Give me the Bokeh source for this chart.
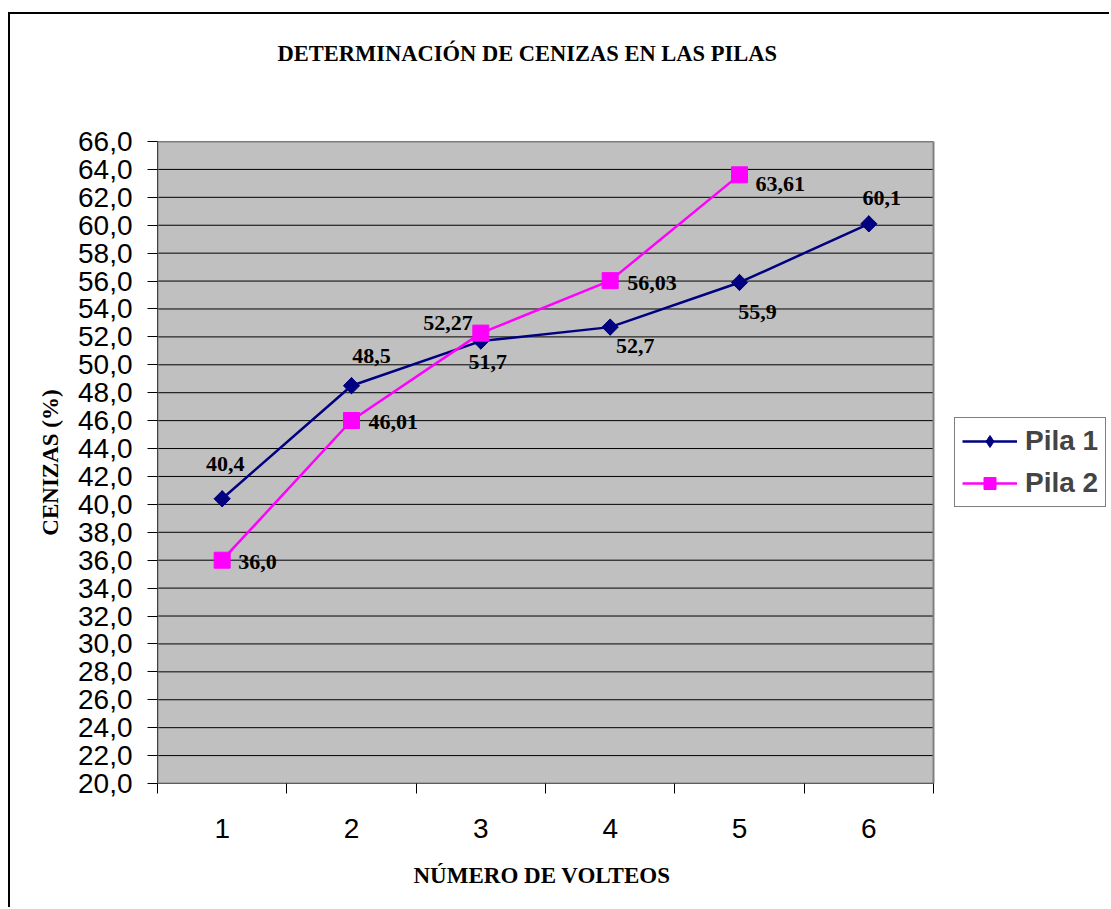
from bokeh.plotting import figure
from bokeh.models import (Range1d, FixedTicker, Legend, LegendItem, Title,
                          ColumnDataSource)
from bokeh.embed import file_html
from bokeh.resources import INLINE
from bokeh.core.properties import value
import math

# ---- data ----
volteos = [1, 2, 3, 4, 5, 6]
pila1 = [40.4, 48.5, 51.7, 52.7, 55.9, 60.1]
pila1_labels = ["40,4", "48,5", "51,7", "52,7", "55,9", "60,1"]
volteos2 = [1, 2, 3, 4, 5]
pila2 = [36.0, 46.01, 52.27, 56.03, 63.61]
pila2_labels = ["36,0", "46,01", "52,27", "56,03", "63,61"]
y_ticks = [20, 22, 24, 26, 28, 30, 32, 34, 36, 38, 40, 42, 44, 46, 48, 50,
           52, 54, 56, 58, 60, 62, 64, 66]
y_tick_labels = ["20,0", "22,0", "24,0", "26,0", "28,0", "30,0", "32,0", "34,0",
                 "36,0", "38,0", "40,0", "42,0", "44,0", "46,0", "48,0", "50,0",
                 "52,0", "54,0", "56,0", "58,0", "60,0", "62,0", "64,0", "66,0"]
x_bounds = [0.5, 1.5, 2.5, 3.5, 4.5, 5.5, 6.5]

# ---- label placement (style only) ----
p1_dx = [3, 20, 7, 25, 18, 13]
p1_dy = [-35, -30, 21, 19, 30, -26]
p2_dx = [16, 17, -8, 17, 16]
p2_dy = [2, 2, -10, 2, 9]
p2_align = ["left", "left", "right", "left", "left"]

NAVY = "#000080"
MAGENTA = "#FF00FF"
SERIF = "Liberation Serif"
SANS = "Liberation Sans"

# layout in pixels
W, H = 1101, 895
LEFT, TOP, BOTTOM = 147, 127, 126
PLOT_W = 776                     # width of the grey plot area
FRAME_W = W - LEFT               # frame extends to the right edge (room for legend)
x0, x1 = x_bounds[0], x_bounds[-1]
x_end = x0 + (x1 - x0) * FRAME_W / PLOT_W
y0, y1 = y_ticks[0], y_ticks[-1]

p = figure(width=W, height=H, output_backend="svg", toolbar_location=None,
           x_range=Range1d(x0, x_end), y_range=Range1d(y0, y1),
           min_border_left=LEFT, min_border_right=0, min_border_top=TOP,
           min_border_bottom=BOTTOM)
p.margin = (12, 0, 0, 8)
p.styles = {"border-left": "2px solid black", "border-top": "2px solid black"}

p.background_fill_color = "white"
p.border_fill_color = "white"
p.outline_line_color = None

# title (outermost) and an empty spacer next to the frame
p.title.text = "DETERMINACIÓN DE CENIZAS EN LAS PILAS"
p.title.align = "left"
p.title.offset = 120
p.title.standoff = 0
p.title.text_font = SERIF
p.title.text_font_style = "bold"
p.title.text_font_size = "22.5px"
p.title.text_color = "black"
spacer = Title(text="\u00a0", standoff=49, text_font_size="22px")
p.add_layout(spacer, "above")

# grey plot area, grid lines and its border
p.quad(left=[x0], right=[x1], bottom=[y0], top=[y1],
       fill_color="#C0C0C0", line_color=None)
p.xgrid.visible = False
p.ygrid.visible = False
p.segment(x0=[x0] * len(y_ticks), x1=[x1] * len(y_ticks), y0=y_ticks, y1=y_ticks,
          line_color="black", line_width=1)
p.quad(left=[x0], right=[x1], bottom=[y0], top=[y1],
       fill_color=None, line_color="#808080", line_width=2)

# y axis
ya = p.yaxis[0]
ya.ticker = FixedTicker(ticks=y_ticks)
ya.major_label_overrides = {t: l for t, l in zip(y_ticks, y_tick_labels)}
ya.major_label_text_font = SANS
ya.major_label_text_font_size = "28px"
ya.major_label_text_color = "black"
ya.major_tick_out = 10
ya.major_tick_in = 0
ya.minor_tick_line_color = None
ya.major_label_standoff = 15
ya.axis_line_color = "#404040"
ya.axis_line_width = 1
ya.axis_label = "CENIZAS (%)"
ya.axis_label_text_font = SERIF
ya.axis_label_text_font_style = "bold"
ya.axis_label_text_font_size = "23px"
ya.axis_label_text_color = "black"
ya.axis_label_standoff = 12

# x axis
xa = p.xaxis[0]
xa.ticker = FixedTicker(ticks=volteos, minor_ticks=x_bounds)
xa.major_tick_line_color = None
xa.major_tick_out = 10
xa.major_tick_in = 0
xa.minor_tick_out = 10
xa.minor_tick_in = 0
xa.minor_tick_line_color = "black"
xa.major_label_text_font = SANS
xa.major_label_text_font_size = "28px"
xa.major_label_text_color = "black"
xa.major_label_standoff = 25
xa.axis_line_color = None
p.segment(x0=[x0], x1=[x1], y0=[y0], y1=[y0], line_color="#404040", line_width=1)

# x axis title, centred under the grey plot area
x_title = Title(text="NÚMERO DE VOLTEOS", align="left", offset=256, standoff=40,
                text_font=SERIF, text_font_style="bold", text_font_size="23px",
                text_color="black")
p.add_layout(x_title, "below")

# series
l1 = p.line(volteos, pila1, line_color=NAVY, line_width=2.5)
# diamond key (hidden inside the rotated squares) used for the legend symbol
m1_key = p.scatter(volteos, pila1, marker="diamond", size=16,
                   fill_color=NAVY, line_color=NAVY)
m1 = p.scatter(volteos, pila1, marker="square", angle=math.pi / 4, size=11.5,
               fill_color=NAVY, line_color=NAVY)
l2 = p.line(volteos2, pila2, line_color=MAGENTA, line_width=2.5)
m2 = p.scatter(volteos2, pila2, marker="square", size=16,
               fill_color=MAGENTA, line_color=MAGENTA)

s1 = ColumnDataSource(dict(x=volteos, y=pila1, t=pila1_labels, dx=p1_dx, dy=p1_dy))
p.text(x="x", y="y", text="t", x_offset="dx", y_offset="dy", source=s1,
       text_font=value(SERIF), text_font_style="bold", text_font_size="22px",
       text_align="center", text_baseline="middle", text_color="black")
s2 = ColumnDataSource(dict(x=volteos2, y=pila2, t=pila2_labels, dx=p2_dx, dy=p2_dy,
                           a=p2_align))
p.text(x="x", y="y", text="t", x_offset="dx", y_offset="dy", source=s2,
       text_font=value(SERIF), text_font_style="bold", text_font_size="22px",
       text_align="a", text_baseline="middle", text_color="black")

# legend inside the (white) part of the frame, right of the plot area
legend = Legend(items=[LegendItem(label="Pila 1", renderers=[l1, m1_key]),
                       LegendItem(label="Pila 2", renderers=[l2, m2])],
                location=(PLOT_W + 21, 276), orientation="vertical")
legend.label_text_font = SANS
legend.label_text_font_style = "bold"
legend.label_text_font_size = "28px"
legend.glyph_width = 55
legend.glyph_height = 30
legend.label_standoff = 8
legend.padding = 7
legend.spacing = 10
legend.margin = 0
legend.border_line_color = "black"
legend.border_line_width = 1
legend.background_fill_color = "white"
legend.background_fill_alpha = 1
p.add_layout(legend, "center")

open("out.html", "w").write(file_html(p, INLINE))
